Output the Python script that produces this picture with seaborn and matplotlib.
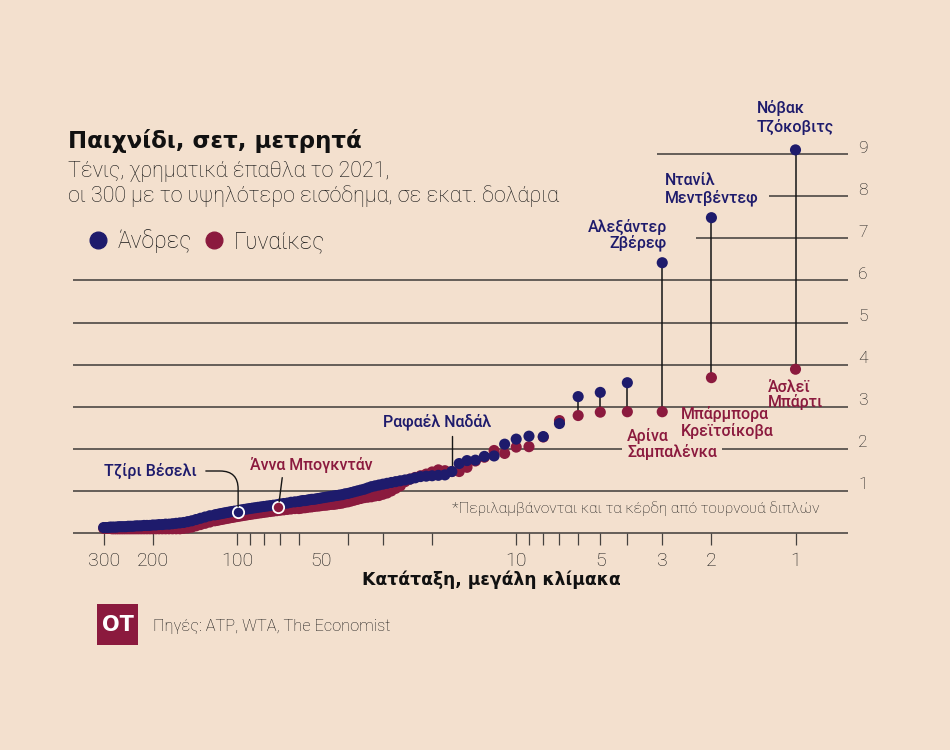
import numpy as np
import pandas as pd
import matplotlib
matplotlib.use("Agg")
import matplotlib.pyplot as plt
import matplotlib.transforms as mtransforms
import seaborn as sns
from matplotlib.lines import Line2D
from matplotlib.patches import Rectangle
from matplotlib.ticker import FixedLocator, FixedFormatter, NullFormatter

# ---------------- data ----------------
ranks = list(range(1, 61)) + list(range(62, 121, 2)) + list(range(125, 301, 5))

men_values = [
    9.10, 7.49, 6.42, 3.57, 3.34, 3.24, 2.60, 2.29, 2.30, 2.23,
    2.11, 1.83, 1.82, 1.73, 1.72, 1.65, 1.46, 1.38, 1.37, 1.36,
    1.35, 1.34, 1.31, 1.28, 1.26, 1.24, 1.22, 1.20, 1.18, 1.16,
    1.14, 1.12, 1.10, 1.07, 1.04, 1.02, 1.00, 0.98, 0.96, 0.94,
    0.93, 0.91, 0.90, 0.89, 0.88, 0.87, 0.86, 0.85, 0.84, 0.83,
    0.82, 0.81, 0.80, 0.80, 0.79, 0.78, 0.77, 0.77, 0.76, 0.75,
    0.74, 0.73, 0.71, 0.70, 0.69, 0.67, 0.66, 0.65, 0.64, 0.63,
    0.62, 0.61, 0.60, 0.59, 0.58, 0.57, 0.56, 0.55, 0.54, 0.52,
    0.52, 0.51, 0.50, 0.49, 0.48, 0.47, 0.46, 0.45, 0.44, 0.43,
    0.41, 0.38, 0.35, 0.32, 0.29, 0.27, 0.25, 0.24, 0.23, 0.22,
    0.21, 0.21, 0.20, 0.20, 0.19, 0.19, 0.18, 0.18, 0.18, 0.17,
    0.17, 0.17, 0.16, 0.16, 0.16, 0.15, 0.15, 0.15, 0.15, 0.14,
    0.14, 0.14, 0.14, 0.13, 0.13, 0.13,
]

women_values = [
    3.89, 3.69, 2.88, 2.88, 2.87, 2.79, 2.67, 2.28, 2.05, 2.04,
    1.89, 1.96, 1.80, 1.71, 1.56, 1.46, 1.46, 1.48, 1.50, 1.45,
    1.40, 1.36, 1.32, 1.28, 1.22, 1.12, 1.06, 1.00, 0.95, 0.92,
    0.89, 0.88, 0.86, 0.85, 0.84, 0.82, 0.80, 0.78, 0.76, 0.74,
    0.73, 0.71, 0.70, 0.69, 0.68, 0.68, 0.67, 0.66, 0.66, 0.65,
    0.64, 0.64, 0.63, 0.62, 0.62, 0.61, 0.60, 0.60, 0.59, 0.58,
    0.58, 0.57, 0.56, 0.55, 0.54, 0.53, 0.52, 0.51, 0.50, 0.49,
    0.48, 0.47, 0.46, 0.45, 0.44, 0.43, 0.42, 0.41, 0.40, 0.39,
    0.38, 0.37, 0.36, 0.35, 0.34, 0.33, 0.32, 0.31, 0.30, 0.29,
    0.26, 0.23, 0.20, 0.17, 0.14, 0.12, 0.11, 0.10, 0.10, 0.10,
    0.10, 0.10, 0.10, 0.10, 0.10, 0.10, 0.10, 0.10, 0.10, 0.10,
    0.10, 0.10, 0.10, 0.10, 0.10, 0.10, 0.10, 0.10, 0.10, 0.10,
    0.10, 0.10, 0.11, 0.11, 0.11, 0.11,
]

groups = ["Άνδρες", "Γυναίκες"]

# highlighted players
vesely_rank, vesely_value = 99, 0.49
bogdan_rank, bogdan_value = 71, 0.61

x_label_ticks = [300, 200, 100, 50, 10, 5, 3, 2, 1]
x_label_texts = ["300", "200", "100", "50", "10", "5", "3", "2", "1"]
x_mark_ticks = [1, 2, 3, 4, 5, 6, 7, 8, 9, 10, 20, 30, 40, 60, 70, 80, 90, 100, 200, 300]
y_levels = [1, 2, 3, 4, 5, 6, 7, 8, 9]

# ---------------- style ----------------
BG = "#f3e0ce"
NAVY = "#1e1b6c"
MAROON = "#8b1a3e"
GRID = "#45423f"
DARK = "#151515"

sns.set_theme(style="white")
plt.rcParams["font.family"] = ["Roboto", "DejaVu Sans"]

W, H = 950, 750
fig = plt.figure(figsize=(9.5, 7.5), dpi=100, facecolor=BG)

def fx(px):
    return px / W

def fy(py):
    return 1 - py / H

# axes geometry: px = 795.5 - 279.3*log10(rank); py = 533 - 42.1*value
ax = fig.add_axes([fx(73), fy(533), (848 - 73) / W, (533 - 91) / H])
ax.set_facecolor(BG)
ax.set_xscale("log")
XL = (10 ** ((795.5 - 73) / 279.3), 10 ** ((795.5 - 848) / 279.3))
ax.set_xlim(XL)
ax.set_ylim(0, (533 - 91) / 42.1)
for s in ax.spines.values():
    s.set_visible(False)

def rank_at(px):
    return 10 ** ((795.5 - px) / 279.3)

def val_at(py):
    return (533 - py) / 42.1

# gridlines (some start further right)
grid_start = {7: rank_at(696), 8: rank_at(769), 9: rank_at(657)}
for lv in [0] + y_levels:
    ax.hlines(lv, grid_start.get(lv, XL[0]), XL[1], color=GRID, lw=1.15,
              zorder=1, clip_on=False)

# stems between men and women where far apart
for r, m, w in zip(ranks, men_values, women_values):
    if abs(m - w) > 0.3:
        ax.plot([r, r], [w, m], color=DARK, lw=1.1, zorder=2, solid_capstyle="butt")

# main scatter
df = pd.DataFrame({
    "rank": ranks + ranks,
    "value": women_values + men_values,
    "group": [groups[1]] * len(ranks) + [groups[0]] * len(ranks),
})
sns.scatterplot(data=df, x="rank", y="value", hue="group",
                palette={groups[0]: NAVY, groups[1]: MAROON},
                s=64, linewidth=0, legend=False, ax=ax, zorder=3, clip_on=False)

# highlighted circles
ax.scatter([vesely_rank], [vesely_value], s=66, color=NAVY, edgecolor="white",
           linewidth=1.3, zorder=4)
ax.scatter([bogdan_rank], [bogdan_value], s=66, color=MAROON, edgecolor="white",
           linewidth=1.3, zorder=4)

# x ticks
ax.xaxis.remove_overlapping_locs = False
ax.xaxis.set_major_locator(FixedLocator(x_label_ticks))
ax.xaxis.set_major_formatter(FixedFormatter(x_label_texts))
ax.xaxis.set_minor_locator(FixedLocator(x_mark_ticks))
ax.xaxis.set_minor_formatter(NullFormatter())
ax.tick_params(axis="x", which="both", bottom=True)
ax.tick_params(axis="x", which="major", length=0, pad=14, labelsize=14, labelcolor=DARK)
ax.tick_params(axis="x", which="minor", length=8.5, width=0.9, color=GRID, direction="out")
for lab in ax.get_xticklabels():
    lab.set_fontweight("light")
ax.set_yticks([])
ax.set_xlabel("")
ax.set_ylabel("")

# y labels on the right
ytrans = mtransforms.offset_copy(
    mtransforms.blended_transform_factory(ax.transAxes, ax.transData),
    fig=fig, x=0, y=6, units="dots")
for lv in y_levels:
    ax.text((858 - 73) / 775, lv, str(lv), transform=ytrans, ha="left", va="center",
            fontsize=12.5, fontweight="light", color=DARK, clip_on=False)

# player labels
name_kw = dict(fontsize=11.5, fontweight="medium", clip_on=False)
ax.text(1, val_at(117.5), "Νόβακ\nΤζόκοβιτς", ha="center", va="center",
        multialignment="left", color=NAVY, linespacing=1.15, zorder=5, **name_kw)
ax.text(2, val_at(189.5), "Ντανίλ\nΜεντβέντεφ", ha="center", va="center",
        multialignment="left", color=NAVY, linespacing=1.15, zorder=5, **name_kw)
ax.text(rank_at(667), val_at(235), "Αλεξάντερ\nΖβέρεφ", ha="right", va="center",
        multialignment="right", color=NAVY, linespacing=1.0, zorder=5, **name_kw)
# Sabalenka (two lines, second one masks the gridline)
ax.text(rank_at(627), val_at(452), "Σαμπαλένκα", ha="left", va="center",
        color=MAROON, bbox=dict(boxstyle="square,pad=0.3", fc=BG, ec="none"),
        zorder=5, **name_kw)
ax.text(rank_at(627), val_at(435.5), "Αρίνα", ha="left", va="center",
        color=MAROON, zorder=6, **name_kw)
# Krejcikova
ax.text(rank_at(681), val_at(414.5), "Μπάρμπορα", ha="left", va="center",
        color=MAROON, zorder=6, **name_kw)
ax.text(rank_at(681), val_at(431), "Κρεϊτσίκοβα", ha="left", va="center",
        color=MAROON, zorder=6, **name_kw)
ax.text(1, val_at(395), "Άσλεϊ\nΜπάρτι", ha="center", va="center",
        multialignment="left", color=MAROON, linespacing=1.0, zorder=5, **name_kw)

# Nadal
nadal_rank = 17
nadal_value = men_values[ranks.index(nadal_rank)]
ax.text(rank_at(437), val_at(422), "Ραφαέλ Ναδάλ", ha="center", va="center",
        color=NAVY, zorder=5, **name_kw)
ax.plot([nadal_rank, nadal_rank], [nadal_value + 0.12, val_at(436)], color=DARK,
        lw=1.0, zorder=2)

# Vesely
ax.annotate("Τζίρι Βέσελι", xy=(vesely_rank, vesely_value), xycoords="data",
            xytext=(rank_at(197), val_at(471)), textcoords="data",
            ha="right", va="center", color=NAVY, zorder=5,
            arrowprops=dict(arrowstyle="-", color=DARK, lw=1.0, shrinkA=4, shrinkB=4,
                            connectionstyle="angle,angleA=0,angleB=90,rad=18"),
            **name_kw)
# Bogdan
ax.annotate("Άννα Μπογκντάν", xy=(bogdan_rank, bogdan_value), xycoords="data",
            xytext=(rank_at(311), val_at(465)), textcoords="data",
            ha="center", va="center", color=MAROON, zorder=5,
            arrowprops=dict(arrowstyle="-", color=DARK, lw=1.0, shrinkA=1, shrinkB=4,
                            relpos=(0.27, 0.0)),
            **name_kw)

# footnote
fig.text(fx(452), fy(509), "*Περιλαμβάνονται και τα κέρδη από τουρνουά διπλών",
         ha="left", va="center", fontsize=11.1, fontweight="light", color=DARK)

# x axis title
fig.text(fx(491), fy(580), "Κατάταξη, μεγάλη κλίμακα", ha="center", va="center",
         fontsize=12.3, fontweight="bold", family=["DejaVu Sans"], color="#111111")

# title & subtitle
fig.text(fx(68), fy(148), "Παιχνίδι, σετ, μετρητά", ha="left", va="baseline",
         fontsize=16.5, fontweight="bold", family=["DejaVu Sans"], color="#111111")
fig.text(fx(68), fy(177), "Τένις, χρηματικά έπαθλα το 2021,", ha="left", va="baseline",
         fontsize=15.5, fontweight="light", color=DARK)
fig.text(fx(68), fy(202), "οι 300 με το υψηλότερο εισόδημα, σε εκατ. δολάρια",
         ha="left", va="baseline", fontsize=15.5, fontweight="light", color=DARK)

# legend
handles = [Line2D([], [], marker="o", ls="", color=NAVY, markersize=12),
           Line2D([], [], marker="o", ls="", color=MAROON, markersize=12)]
leg = fig.legend(handles, groups, loc="center left", bbox_to_anchor=(fx(64), fy(241)),
                 ncol=2, frameon=False, handletextpad=0.25, columnspacing=0.35,
                 handlelength=1.2, prop=dict(size=16.5, weight="light"))
for t in leg.get_texts():
    t.set_color(DARK)

# source & logo
fig.add_artist(Rectangle((fx(97), fy(645)), 41 / W, 41 / H, transform=fig.transFigure,
                         facecolor=MAROON, edgecolor="none"))
fig.text(fx(117.5), fy(625), "OT", ha="center", va="center", color="white",
         fontsize=15, fontweight="bold", family=["DejaVu Sans"])
fig.text(fx(153), fy(627), "Πηγές: ATP, WTA, The Economist", ha="left", va="center",
         fontsize=11.8, fontweight="light", color=DARK)

fig.savefig("out.png", dpi=100, facecolor=BG)
